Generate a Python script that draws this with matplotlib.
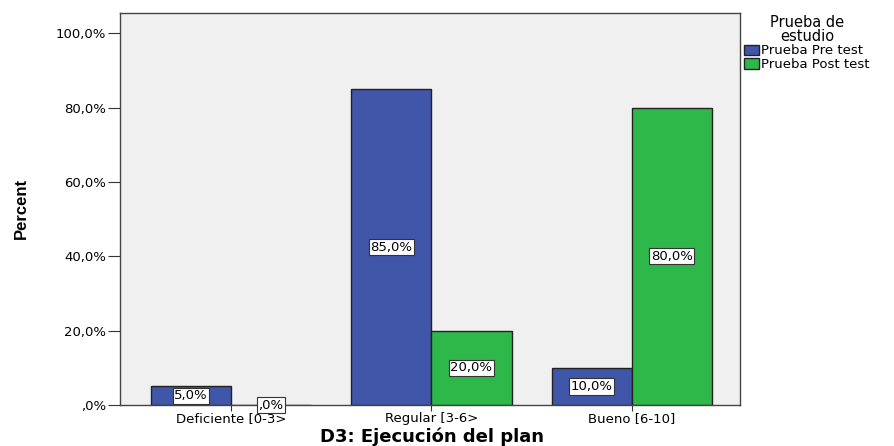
import matplotlib.pyplot as plt
import numpy as np
from matplotlib.patches import Patch

categories = ["Deficiente [0-3>", "Regular [3-6>", "Bueno [6-10]"]
pre_test = [5.0, 85.0, 10.0]
post_test = [0.0, 20.0, 80.0]
series_names = ["Prueba Pre test", "Prueba Post test"]
yticks = [0, 20, 40, 60, 80, 100]

blue = "#3F56A9"
green = "#2EB84A"

plt.rcParams['font.family'] = ['DejaVu Sans']

fig = plt.figure(figsize=(8.94, 4.46), dpi=100)
ax = fig.add_axes([120 / 894, 1 - 405 / 446, 620 / 894, 392 / 446])
ax.set_facecolor("#F0F0F0")

x = np.arange(len(categories))
w = 0.4
b1 = ax.bar(x - w / 2, pre_test, w, color=blue, edgecolor="#222222", linewidth=1)
b2 = ax.bar(x + w / 2, post_test, w, color=green, edgecolor="#222222", linewidth=1)

box = dict(boxstyle="square,pad=0.12", fc="white", ec="#333333", lw=0.8)
for bars, vals in ((b1, pre_test), (b2, post_test)):
    for bar, v in zip(bars, vals):
        lbl = f"{v:.1f}".replace(".", ",")
        if lbl.startswith("0"):
            lbl = lbl[1:]
        ax.text(bar.get_x() + bar.get_width() / 2, v / 2, lbl + "%",
                ha="center", va="center", fontsize=9.5, bbox=box, zorder=5)

ax.set_xlim(-0.554, 2.54)
ax.set_ylim(0, 105.5)
ax.set_yticks(yticks)
ax.set_yticklabels([(f"{t:.1f}".replace(".", ",") if t else ",0") + "%" for t in yticks])
ax.set_xticks(x)
ax.set_xticklabels(categories)
ax.tick_params(axis="both", labelsize=9.5, color="#333333")
ax.tick_params(axis="y", length=9, pad=1)
ax.tick_params(axis="x", length=4, pad=1)
for s in ax.spines.values():
    s.set_color("#444444")
    s.set_linewidth(1)

fig.text(432 / 894, 1 - 437 / 446, "D3: Ejecución del plan", fontsize=13, fontweight="bold",
         ha="center", va="center")
fig.text(21 / 894, 1 - 208 / 446, "Percent", fontsize=12, fontweight="bold", rotation=90,
         family=['Liberation Sans Narrow', 'Liberation Sans'], ha="center", va="center")

handles = [Patch(facecolor=blue, edgecolor="#222222"), Patch(facecolor=green, edgecolor="#222222")]
leg = fig.legend(handles, series_names, title="Prueba de\nestudio", loc="upper left",
                 bbox_to_anchor=(744 / 894, 1 - 15 / 446), frameon=False, fontsize=9.5,
                 title_fontsize=10.5, handlelength=1.1, handleheight=0.8, handletextpad=0.2,
                 labelspacing=0.05, borderaxespad=0, borderpad=0)
leg.get_title().set_ha("center")
leg.get_title().set_linespacing(0.9)

fig.savefig("out.png", dpi=100)
